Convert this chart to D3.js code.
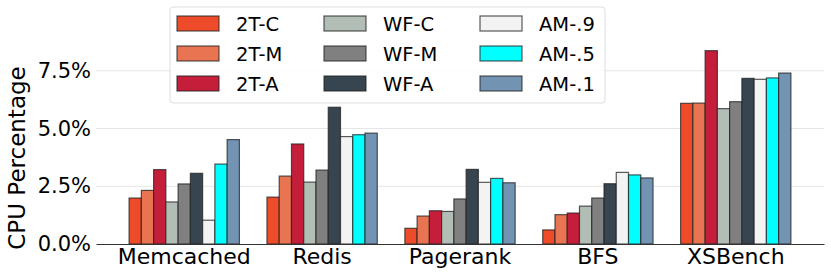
<!DOCTYPE html>
<html>
<head>
<meta charset="utf-8">
<script src="https://cdn.jsdelivr.net/npm/d3@7"></script>
<style>
  body { margin: 0; background: #fff; }
  svg { display: block; font-family: "DejaVu Sans", sans-serif; }
</style>
</head>
<body>
<svg id="chart"></svg>
<script>
let width = 831;
let height = 276;

// data (CPU %)
let workloads = ["Memcached", "Redis", "Pagerank", "BFS", "XSBench"];
let seriesNames = ["2T-C", "2T-M", "2T-A", "WF-C", "WF-M", "WF-A", "AM-.9", "AM-.5", "AM-.1"];
let seriesColors = ["#EE4B2B", "#E97451", "#C41E3A", "#B2BEB5", "#808080", "#36454F", "#F3F3F3", "#00FFFF", "#7393B3"];
let memcachedVals = [1.99, 2.32, 3.22, 1.82, 2.60, 3.06, 1.03, 3.46, 4.52];
let redisVals = [2.03, 2.94, 4.33, 2.68, 3.20, 5.92, 4.65, 4.73, 4.80];
let pagerankVals = [0.68, 1.21, 1.44, 1.41, 1.95, 3.23, 2.67, 2.84, 2.65];
let bfsVals = [0.61, 1.27, 1.34, 1.64, 1.99, 2.61, 3.10, 2.99, 2.86];
let xsbenchVals = [6.09, 6.10, 8.37, 5.86, 6.16, 7.17, 7.13, 7.19, 7.40];
let yTicks = [0, 2.5, 5, 7.5];

let values = [memcachedVals, redisVals, pagerankVals, bfsVals, xsbenchVals];

let left = 96, right = 824, bottom = 244;

let svg = d3.select("#chart").attr("width", width).attr("height", height);

let xScale = d3.scaleBand()
  .domain(workloads)
  .range([left, right])
  .paddingInner(0.2)
  .paddingOuter(0.24);

let xSub = d3.scaleBand()
  .domain(seriesNames)
  .range([0, xScale.bandwidth()])
  .padding(0);

let yScale = d3.scaleLinear()
  .domain([0, 8.8])
  .range([bottom, bottom - 8.8 * 23.1]);

let color = d3.scaleOrdinal().domain(seriesNames).range(seriesColors);

// grid
svg.append("g")
  .selectAll("line")
  .data(yTicks.slice(1))
  .enter()
  .append("line")
  .attr("x1", left)
  .attr("x2", right)
  .attr("y1", d => yScale(d))
  .attr("y2", d => yScale(d))
  .attr("stroke", "#e6e6e6")
  .attr("stroke-width", 1);

// bars
let groups = svg.append("g")
  .selectAll("g")
  .data(workloads)
  .enter()
  .append("g")
  .attr("transform", d => "translate(" + xScale(d) + ",0)");

groups.selectAll("rect")
  .data((d, i) => values[i].map((v, j) => ({ name: seriesNames[j], v: v })))
  .enter()
  .append("rect")
  .attr("x", d => xSub(d.name))
  .attr("width", xSub.bandwidth())
  .attr("y", d => yScale(d.v))
  .attr("height", d => bottom - yScale(d.v))
  .attr("fill", d => color(d.name))
  .attr("stroke", "#222")
  .attr("stroke-opacity", 0.75)
  .attr("stroke-width", 1.2);

// y axis (labels only)
let yAxis = d3.axisLeft(yScale)
  .tickValues(yTicks)
  .tickFormat(d => d.toFixed(1) + "%")
  .tickSize(0)
  .tickPadding(5);

let gy = svg.append("g")
  .attr("transform", "translate(" + left + ",0)")
  .call(yAxis);
gy.select(".domain").remove();
gy.selectAll("text")
  .style("font-size", "21px")
  .style("font-family", "DejaVu Sans")
  .attr("fill", "#000");

// x axis
let xAxis = d3.axisBottom(xScale).tickSize(0).tickPadding(4);
let gx = svg.append("g")
  .attr("transform", "translate(0," + bottom + ")")
  .call(xAxis);
gx.select(".domain").attr("stroke", "#333").attr("stroke-width", 1.2);
gx.selectAll("text")
  .style("font-size", "22px")
  .style("font-family", "DejaVu Sans")
  .attr("fill", "#000");

// y label
svg.append("text")
  .attr("transform", "translate(25," + 158 + ") rotate(-90)")
  .attr("text-anchor", "middle")
  .style("font-size", "23px")
  .text("CPU Percentage");

// legend
let legend = svg.append("g").attr("transform", "translate(170,7)");
legend.append("rect")
  .attr("width", 435)
  .attr("height", 96)
  .attr("rx", 3)
  .attr("fill", "#fff")
  .attr("fill-opacity", 0.85)
  .attr("stroke", "#ddd")
  .attr("stroke-width", 1);

let colX = [7, 154, 310];
let items = legend.selectAll("g.item")
  .data(seriesNames)
  .enter()
  .append("g")
  .attr("class", "item")
  .attr("transform", (d, i) => "translate(" + colX[Math.floor(i / 3)] + "," + (9 + (i % 3) * 30) + ")");

items.append("rect")
  .attr("width", 42)
  .attr("height", 15)
  .attr("fill", d => color(d))
  .attr("stroke", "#222")
  .attr("stroke-opacity", 0.75)
  .attr("stroke-width", 1.2);

items.append("text")
  .attr("x", 59)
  .attr("y", 7.5)
  .attr("dy", "0.36em")
  .style("font-size", "19.5px")
  .text(d => d);
</script>
</body>
</html>
